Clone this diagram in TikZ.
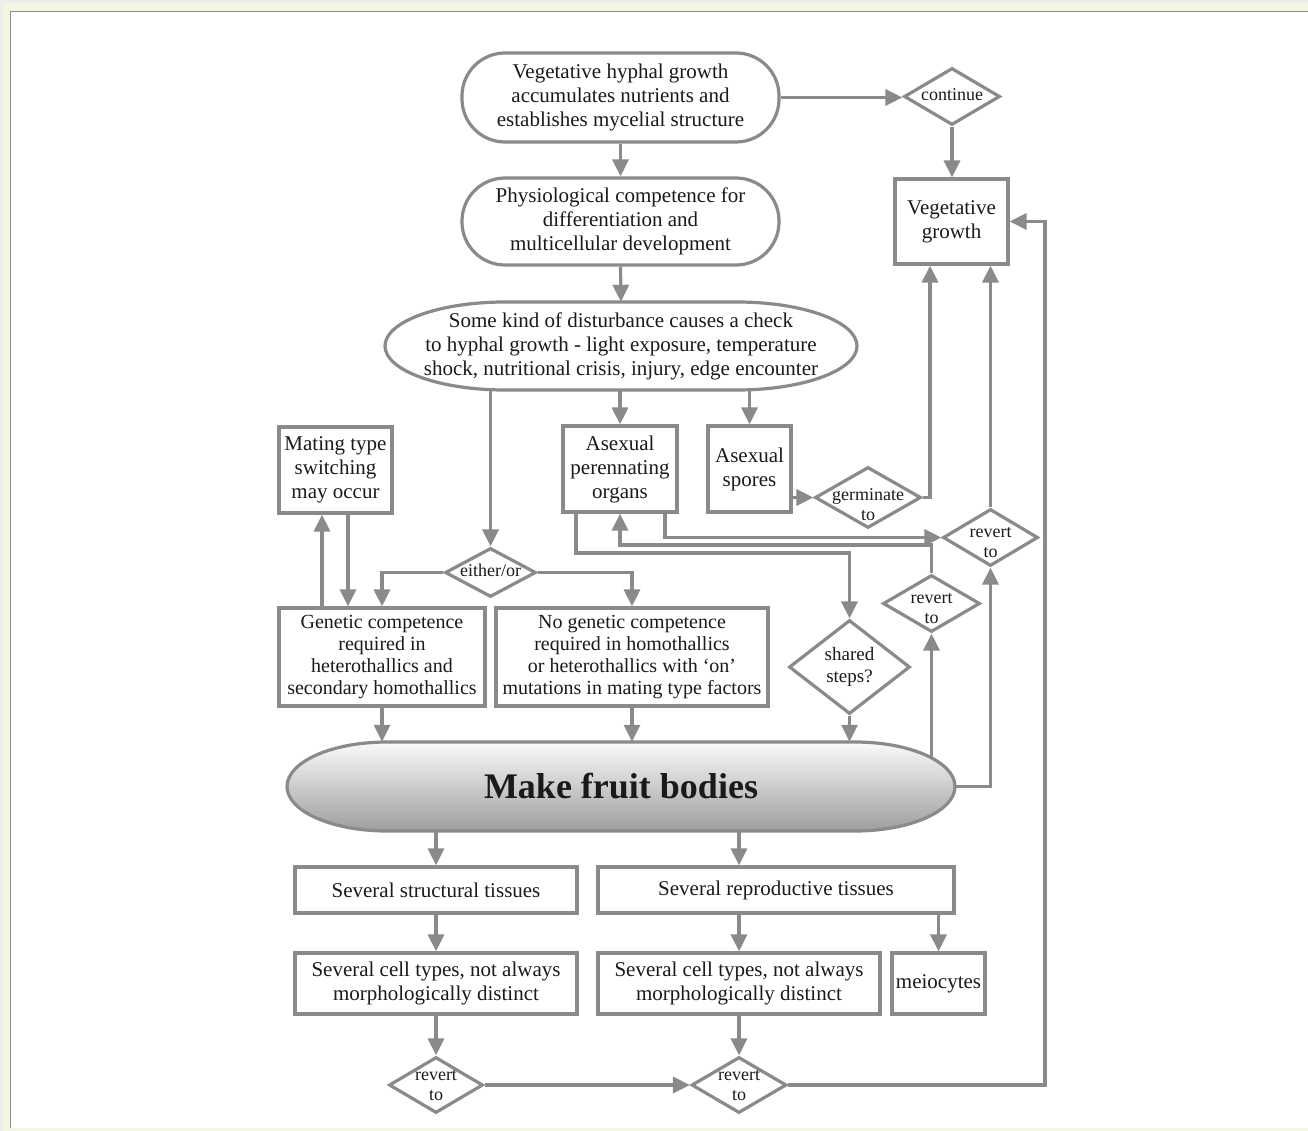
\documentclass[tikz,border=0pt]{standalone}
\usepackage{fontspec}
\setmainfont{Liberation Serif}
\usetikzlibrary{arrows.meta,shapes.geometric,calc}
\definecolor{lc}{HTML}{8A8A8A}
\definecolor{tc}{HTML}{1A1A1A}
\definecolor{bgc}{HTML}{F5F5E3}
\newcommand\fsz[2]{\fontsize{#1}{#2}\selectfont}
\newcommand\dtxt[2][-4.5pt]{\smash{\raisebox{#1}{\makebox[0pt]{\begin{tabular}{@{}c@{}}#2\end{tabular}}}}}
\newcommand\elldraw[6]{%
 \pgfmathsetmacro\elYm{(#3+#5)/2}%
 \pgfmathsetmacro\elRy{(#5-#3)/2}%
 \pgfmathsetmacro\elXa{#2+#6}%
 \pgfmathsetmacro\elXb{#4-#6}%
 \pgfmathsetmacro\elK{0.5523*#6}%
 \pgfmathsetmacro\elKK{0.5523*\elRy}%
 \draw[#1] (\elXa,#3) -- (\elXb,#3) .. controls ({\elXb+\elK},#3) and (#4,{\elYm-\elKK}) .. (#4,\elYm) .. controls (#4,{\elYm+\elKK}) and ({\elXb+\elK},#5) .. (\elXb,#5) -- (\elXa,#5) .. controls ({\elXa-\elK},#5) and (#2,{\elYm+\elKK}) .. (#2,\elYm) .. controls (#2,{\elYm-\elKK}) and ({\elXa-\elK},#3) .. (\elXa,#3) -- cycle;}
\begin{document}
\begin{tikzpicture}[x=1pt,y=-1pt,
  box/.style={draw=lc, line width=3.2pt, fill=white, inner sep=0pt, text=tc, align=center, font=\fsz{21}{24}},
  gbox/.style={box, font=\fsz{20}{22}},
  stad/.style={box, rounded corners=43pt},
  dia/.style={diamond, draw=lc, line width=3.2pt, fill=white, inner sep=0pt, text=tc, font=\fsz{18}{20}},
  arr/.style={draw=lc, line width=3.2pt, -{Triangle[length=17pt,width=16pt]}},
  txt/.style={inner sep=0pt, text=tc, align=center}]
\useasboundingbox (0,0) rectangle (1308,1131);
% frame
\fill[bgc] (0,0) rectangle (1308,1131);
\fill[black!7] (0,0) rectangle (1308,3);
\fill[black!7] (0,0) rectangle (3,1131);
\fill[white] (10,11) rectangle (1308,1128);
\draw[black!45, line width=1.2pt] (10.5,1128) -- (10.5,11.5) -- (1308,11.5);

% shapes drawn directly
\elldraw{draw=lc, line width=3.2pt, fill=white}{385}{302}{857}{390}{120}
\elldraw{draw=lc, line width=3.2pt, top color=black!2, bottom color=black!38}{287}{742}{955}{831}{100}

% nodes
\node[stad, minimum width=317, minimum height=89] (top) at (620.5,97.5)
  {Vegetative hyphal growth\\accumulates nutrients and\\establishes mycelial structure};
\node[dia, minimum width=96, minimum height=57] (cont) at (952,96.5) {\dtxt{continue}};
\node[box, minimum width=113, minimum height=85] (veg) at (951.5,221.5) {Vegetative\\growth};
\node[stad, minimum width=317, minimum height=87] (phys) at (620.5,221.5)
  {Physiological competence for\\differentiation and\\multicellular development};
\node[txt, font=\fsz{21}{24}, minimum width=472, minimum height=88] (dist) at (621,346)
  {Some kind of disturbance causes a check\\to hyphal growth - light exposure, temperature\\shock, nutritional crisis, injury, edge encounter};
\node[box, minimum width=113, minimum height=86] (mating) at (335.5,470) {Mating type\\switching\\may occur};
\node[box, minimum width=114, minimum height=86] (apo) at (620,469) {Asexual\\perennating\\organs};
\node[box, minimum width=83, minimum height=86] (asp) at (749.5,469) {Asexual\\spores};
\node[dia, minimum width=106, minimum height=61] (germ) at (868,497.5) {\dtxt[-13pt]{germinate\\to}};
\node[dia, minimum width=95, minimum height=57] (rev1) at (990.5,537.5) {\dtxt[-10pt]{revert\\to}};
\node[dia, minimum width=97, minimum height=57] (rev2) at (931.5,603.5) {\dtxt[-10.5pt]{revert\\to}};
\node[dia, minimum width=91, minimum height=49] (either) at (490.5,572.5) {\dtxt{either/or}};
\node[gbox, minimum width=206, minimum height=98] (gen) at (382,657)
  {Genetic competence\\required in\\heterothallics and\\secondary homothallics};
\node[gbox, minimum width=272, minimum height=98] (nogen) at (632,657)
  {No genetic competence\\required in homothallics\\or heterothallics with `on'\\mutations in mating type factors};
\node[dia, minimum width=121, minimum height=94, font=\fsz{19}{22}] (shared) at (849.5,667) {\dtxt{shared\\steps?}};
\node[txt, font=\fsz{36}{40}\bfseries, minimum width=668, minimum height=89] (mf) at (621,786.5) {Make fruit bodies};
\coordinate (mfr) at (931.5,757.6);
\node[box, minimum width=282, minimum height=46] (struct) at (436,890) {Several structural tissues};
\node[box, minimum width=356, minimum height=46] (repro) at (776,890) {Several reproductive tissues};
\node[box, minimum width=282, minimum height=61] (cellL) at (436,983.5) {Several cell types, not always\\morphologically distinct};
\node[box, minimum width=282, minimum height=61] (cellR) at (739,983.5) {Several cell types, not always\\morphologically distinct};
\node[box, minimum width=93, minimum height=61] (meio) at (938.5,983.5) {meiocytes};
\node[dia, minimum width=94, minimum height=56] (revL) at (436,1085) {\dtxt[-5.5pt]{revert\\to}};
\node[dia, minimum width=95, minimum height=56] (revR) at (739,1085) {\dtxt[-5.5pt]{revert\\to}};

\coordinate (j1) at (621,545);
\coordinate (j2) at (849.5,553);
\coordinate (j3) at (1045,221.5);

% connectors
\draw[arr] (top.east) -- (top.east -| cont.west);
\draw[arr] (cont.south) -- (cont.south |- veg.north);
\draw[arr] (top.south) -- (phys.north);
\draw[arr] (phys.south) -- (dist.north);
\draw[arr] (either.north |- dist.south) -- (either.north);
\draw[arr] (apo.north |- dist.south) -- (apo.north);
\draw[arr] (asp.north |- dist.south) -- (asp.north);
\draw[arr] (germ.west -| asp.east) -- (germ.west);
\draw[arr] (germ.east) -| ([xshift=-21.5pt]veg.south);
\draw[arr] (rev1.north) -- (rev1.north |- veg.south);
\draw[arr] ([xshift=45pt]apo.south) |- (rev1.west);
\draw[arr] (rev2.north) |- (apo.south |- j1) -- (apo.south);
\draw[arr] ([xshift=-44pt]apo.south) -- ([xshift=-44pt]apo.south |- j2) -| (shared.north);
\draw[arr] (shared.south) -- (shared.south |- mf.north);
\draw[arr] (mfr) -- (rev2.south);
\draw[arr] (mf.east) -| (rev1.south);
\draw[arr] (either.west) -| (gen.north);
\draw[arr] (either.east) -| (nogen.north);
\draw[arr] ([xshift=-60pt]gen.north) -- ([xshift=-60pt]gen.north |- mating.south);
\draw[arr] ([xshift=12.5pt]mating.south) -- ([xshift=12.5pt]mating.south |- gen.north);
\draw[arr] (gen.south) -- (gen.south |- mf.north);
\draw[arr] (nogen.south) -- (nogen.south |- mf.north);
\draw[arr] (struct.north |- mf.south) -- (struct.north);
\draw[arr] (cellR.north |- mf.south) -- (cellR.north |- repro.north);
\draw[arr] (struct.south) -- (cellL.north);
\draw[arr] (cellR.north |- repro.south) -- (cellR.north);
\draw[arr] (meio.north |- repro.south) -- (meio.north);
\draw[arr] (cellL.south) -- (revL.north);
\draw[arr] (cellR.south) -- (revR.north);
\draw[arr] (revL.east) -- (revR.west);
\draw[arr] (revR.east) -| (j3) -- (veg.east);
\end{tikzpicture}
\end{document}
